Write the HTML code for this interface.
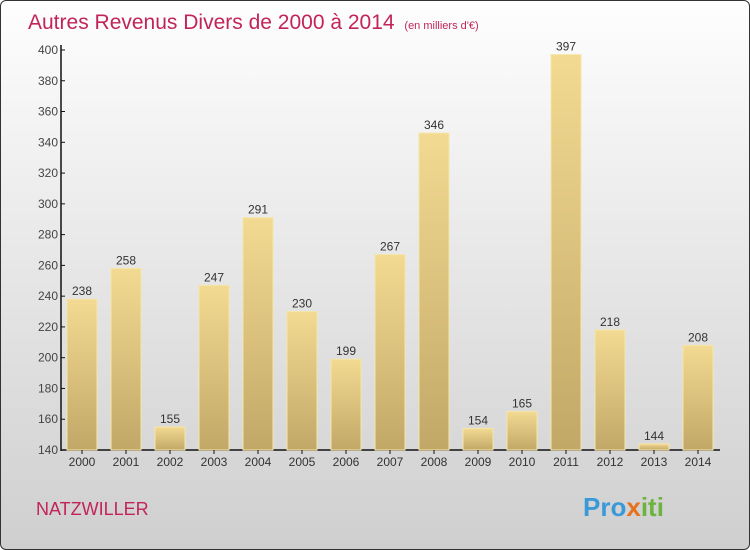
<!DOCTYPE html>
<html><head><meta charset="utf-8"><style>
body{margin:0;width:750px;height:550px;overflow:hidden}
#wrap{position:absolute;left:0;top:0;width:748px;height:548px;border:1px solid #333;border-radius:6px;background:linear-gradient(#fefefe,#e6e6e6 50%,#cfcfcf);overflow:hidden}
text{font-family:"Liberation Sans",sans-serif}
</style></head><body>
<div id="wrap">
<svg id="svg" width="750" height="550" style="position:absolute;left:-1px;top:-1px">
<defs><linearGradient id="g" x1="0" y1="0" x2="0" y2="1"><stop offset="0" stop-color="#f3da92"/><stop offset="1" stop-color="#c2a867"/></linearGradient></defs>
<text x="28" y="29" font-size="21" fill="#c2245a">Autres Revenus Divers de 2000 à 2014 <tspan font-size="11" dx="4">(en milliers d'€)</tspan></text>
<text x="36" y="515" font-size="18" fill="#c2245a">NATZWILLER</text>
<text x="583" y="516" font-size="26" font-weight="bold" fill="#3a9ad9">Pro<tspan fill="#e8711c">x</tspan><tspan fill="#6cb33f">iti</tspan></text>
</svg></div>
<script>
const categories=["2000","2001","2002","2003","2004","2005","2006","2007","2008","2009","2010","2011","2012","2013","2014"];
const values=[238,258,155,247,291,230,199,267,346,154,165,397,218,144,208];
const yTicks=[140,160,180,200,220,240,260,280,300,320,340,360,380,400];
const svg=document.getElementById('svg');const NS="http://www.w3.org/2000/svg";
const y=v=>450-(v-140)*400/260;const x=i=>82+i*44;
function mk(t,a,txt){const e=document.createElementNS(NS,t);for(const k in a)e.setAttribute(k,a[k]);if(txt!=null)e.textContent=txt;svg.appendChild(e);return e;}
let ax=mk('line',{x1:61,y1:45,x2:61,y2:451,stroke:'#111','stroke-width':1.5});


let bx=mk('line',{x1:61,y1:450,x2:720,y2:450,stroke:'#111','stroke-width':1.5});


yTicks.forEach(t=>{const l=mk('line',{x1:61,y1:y(t),x2:65,y2:y(t),stroke:'#111'});


const tx=mk('text',{x:58,y:y(t)+4,'font-size':12,'text-anchor':'end',fill:'#444'},t);

});
categories.forEach((c,i)=>{const v=values[i];
const r=mk('rect',{x:x(i)-15,y:y(v),width:30,height:450-y(v),fill:'url(#g)',stroke:'#f5e6a8','stroke-width':1});


const vl=mk('text',{x:x(i),y:y(v)-4,'font-size':12,'text-anchor':'middle',fill:'#333'},v);


const tk=mk('line',{x1:x(i),y1:450,x2:x(i),y2:454,stroke:'#111'});


const cl=mk('text',{x:x(i),y:466,'font-size':12,'text-anchor':'middle',fill:'#333'},c);

});
</script>
</body></html>
